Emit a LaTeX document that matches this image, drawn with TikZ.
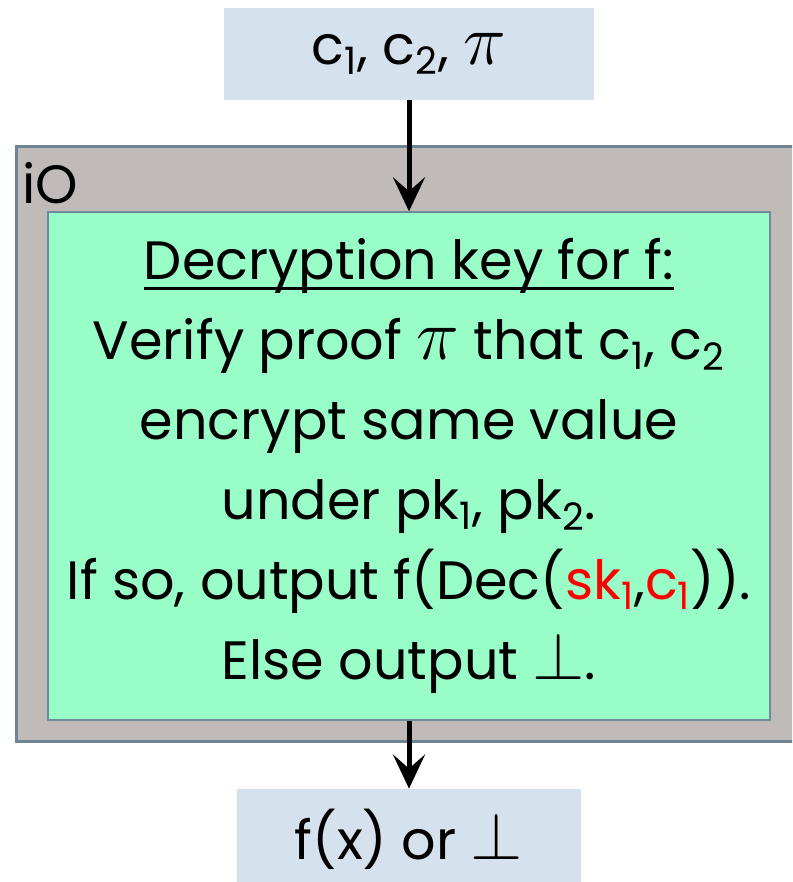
\documentclass[tikz,border=0pt]{standalone}
\usepackage{graphicx}
\usepackage{fontspec}
\setmainfont{Poppins}
\usetikzlibrary{arrows.meta}
\definecolor{boxblue}{HTML}{D5E2ED}
\definecolor{iogray}{HTML}{C0BAB9}
\definecolor{ioedge}{HTML}{6F8396}
\definecolor{keygreen}{HTML}{99FDC8}
\definecolor{keyedge}{HTML}{6F8A9A}
\definecolor{keyred}{HTML}{FF0000}
\newcommand{\lowsub}[1]{\textsubscript{#1}}
\newcommand{\bigpi}{\scalebox{1.45}{$\pi$}}
\newcommand{\bigbot}{\scalebox{1.35}{$\perp$}}
\newcommand{\headline}[1]{\setbox0\hbox{#1}\rlap{\raisebox{-5pt}{\rule{\wd0}{1.5pt}}}\box0}
\tikzset{
  iobox/.style={draw=none,fill=boxblue,inner sep=0pt},
  flow/.style={-{Stealth[length=17pt,width=16pt,inset=7pt]},line width=2.5pt,black}
}

\begin{document}
\begin{tikzpicture}[x=0.5pt,y=-0.5pt,every node/.style={font=\fontsize{27}{40}\selectfont}]
\clip (0,0) rectangle (792,882);
% input and output boxes
\node[iobox,minimum width=185pt,minimum height=46pt] (input) at (409,54) {c\lowsub{1}, c\lowsub{2}, \bigpi};
\node[iobox,minimum width=172pt,minimum height=50pt] (output) at (409,839) {f(x) or \bigbot};
% obfuscated program
\node[draw=ioedge,line width=1.5pt,fill=iogray,minimum width=392pt,minimum height=297pt] (io) at (408,444) {};
\node[anchor=base west,inner sep=0pt] (iolabel) at (22,204) {iO};
\node[draw=keyedge,line width=0.7pt,fill=keygreen,minimum width=361pt,minimum height=254pt,align=center,inner sep=0pt] (key) at (409,466)
  {\headline{Decryption key for f:}\\
   Verify proof \bigpi{} that c\lowsub{1}, c\lowsub{2}\\
   encrypt same value\\
   under pk\lowsub{1}, pk\lowsub{2}.\\
   If so, output f(Dec({\color{keyred}sk\lowsub{1}},{\color{keyred}c\lowsub{1}})).\\
   Else output \bigbot.};
\draw[flow] (input.south) -- (key.north);
\draw[flow] (key.south) -- (output.north);
\end{tikzpicture}
\end{document}
